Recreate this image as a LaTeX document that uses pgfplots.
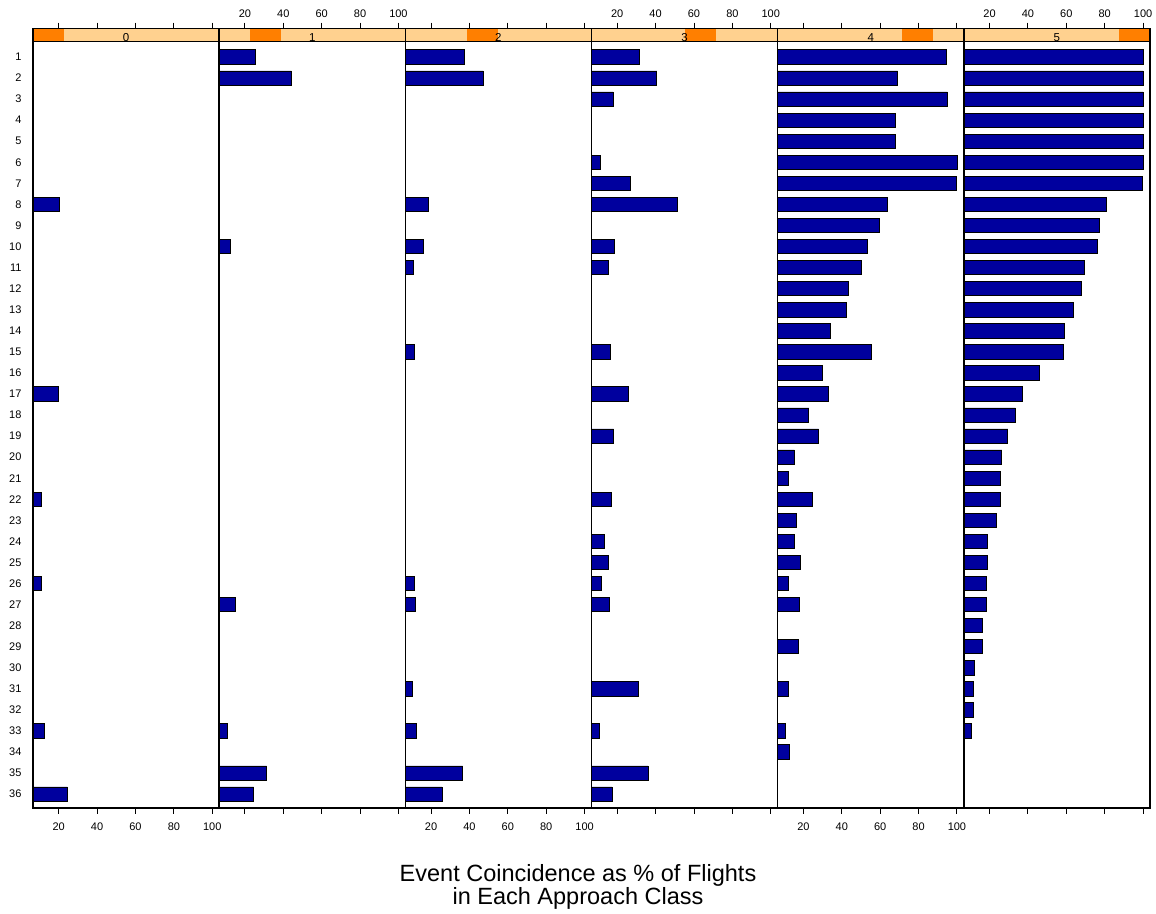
\documentclass[border=0pt]{standalone}
\usepackage{fontspec}
\setmainfont{Liberation Sans}
\usepackage{pgfplots}
\pgfplotsset{compat=1.18}
\definecolor{barblue}{RGB}{0,0,158}
\definecolor{striplight}{RGB}{255,209,143}
\definecolor{stripdark}{RGB}{255,127,0}
\pgfplotsset{
  panel/.style={
    xbar, scale only axis, width=186.17pt, height=779.7pt, anchor=south west,
    xmin=6.6, xmax=103.6, ymin=-0.363, ymax=36.66, y dir=reverse,
    bar width=0.68, axis on top,
    xtick={20,40,60,80,100}, tick align=outside, major tick length=5.7pt,
    ytick=\empty,
    axis line style={line width=1.4pt},
    every tick/.style={black, line width=0.9pt},
    tick label style={font=\fontsize{11}{13}\selectfont},
    /pgf/number format/assume math mode=true,
  },
  lowlab/.style={xticklabel pos=lower, xtick pos=both, xticklabel style={yshift=-5.5pt}},
  uplab/.style={xticklabel pos=upper, xtick pos=both, xticklabel style={yshift=1.6pt}},
  bars/.style={fill=barblue, draw=black, line width=0.7pt},
}
\newcommand{\strip}[3]{%
  \fill[striplight] (axis cs:6.6,-0.363) rectangle (axis cs:103.6,0.273);
  \fill[stripdark] (axis cs:#1,-0.363) rectangle (axis cs:#2,0.273);
  \draw[line width=1.2pt] (axis cs:6.6,0.273) -- (axis cs:103.6,0.273);
  \node[anchor=base, inner sep=0pt, font=\fontsize{11.5}{13}\selectfont] at (axis cs:55.1,0.273) {#3};
}
\begin{document}
\begin{tikzpicture}
\path[use as bounding box] (0,0) rectangle (1156pt,913pt);
% panel 0
\begin{axis}[panel, lowlab, at={(33pt,105pt)},
  ytick={1,...,36}, ytick style={draw=none},
  yticklabel style={xshift=-2.3pt, font=\fontsize{11}{13}\selectfont}]
\addplot[bars] coordinates {(20.2,8) (19.8,17) (10.7,22) (10.9,26) (12.3,33) (24.5,36)};
\strip{6.6}{22.767}{0}
\end{axis}
% panel 1
\begin{axis}[panel, uplab, at={(219.17pt,105pt)}]
\addplot[bars] coordinates {(25.6,1) (44.2,2) (12.3,10) (15.1,27) (10.6,33) (31.3,35) (24.5,36)};
\strip{22.767}{38.933}{1}
\end{axis}
% panel 2
\begin{axis}[panel, lowlab, at={(405.33pt,105pt)}]
\addplot[bars] coordinates {(37.5,1) (47.1,2) (18.6,8) (16.1,10) (10.6,11) (11.1,15) (11.3,26) (12.0,27) (10.4,31) (12.2,33) (36.5,35) (25.7,36)};
\strip{38.933}{55.1}{2}
\end{axis}
% panel 3
\begin{axis}[panel, uplab, at={(591.5pt,105pt)}]
\addplot[bars] coordinates {(31.6,1) (40.6,2) (17.8,3) (11.2,6) (27.0,7) (51.2,8) (18.3,10) (15.5,11) (16.6,15) (25.9,17) (18.1,19) (17.1,22) (13.5,24) (15.3,25) (11.9,26) (15.7,27) (30.9,31) (10.9,33) (36.0,35) (17.2,36)};
\strip{55.1}{71.267}{3}
\end{axis}
% panel 4
\begin{axis}[panel, lowlab, at={(777.67pt,105pt)}]
\addplot[bars] coordinates {(94.5,1) (69.1,2) (95.0,3) (67.7,4) (67.7,5) (100,6) (99.5,7) (63.9,8) (59.8,9) (53.2,10) (50.2,11) (43.5,12) (42.6,13) (33.8,14) (55.4,15) (29.7,16) (32.8,17) (22.8,18) (27.9,19) (15.3,20) (12.1,21) (24.8,22) (16.5,23) (15.2,24) (18.3,25) (11.9,26) (17.8,27) (17.3,29) (12.4,31) (10.5,33) (12.6,34)};
\strip{71.267}{87.433}{4}
\end{axis}
% panel 5
\begin{axis}[panel, uplab, at={(963.83pt,105pt)}]
\addplot[bars] coordinates {(100,1) (100,2) (100,3) (100,4) (100,5) (100,6) (99.5,7) (81.1,8) (77.3,9) (76.1,10) (69.6,11) (67.6,12) (63.7,13) (59.2,14) (58.5,15) (46.2,16) (37.0,17) (33.5,18) (29.5,19) (26.4,20) (25.7,21) (25.7,22) (23.3,23) (18.6,24) (18.6,25) (18.1,26) (18.1,27) (16.0,28) (16.0,29) (12.1,30) (11.4,31) (11.4,32) (10.6,33)};
\strip{87.433}{103.6}{5}
\end{axis}
\node[anchor=base, inner sep=0pt, font=\fontsize{23.5}{27}\selectfont] at (578pt,32pt) {Event Coincidence as \% of Flights};
\node[anchor=base, inner sep=0pt, font=\fontsize{23.5}{27}\selectfont] at (578pt,8.5pt) {in Each Approach Class};
\end{tikzpicture}
\end{document}
